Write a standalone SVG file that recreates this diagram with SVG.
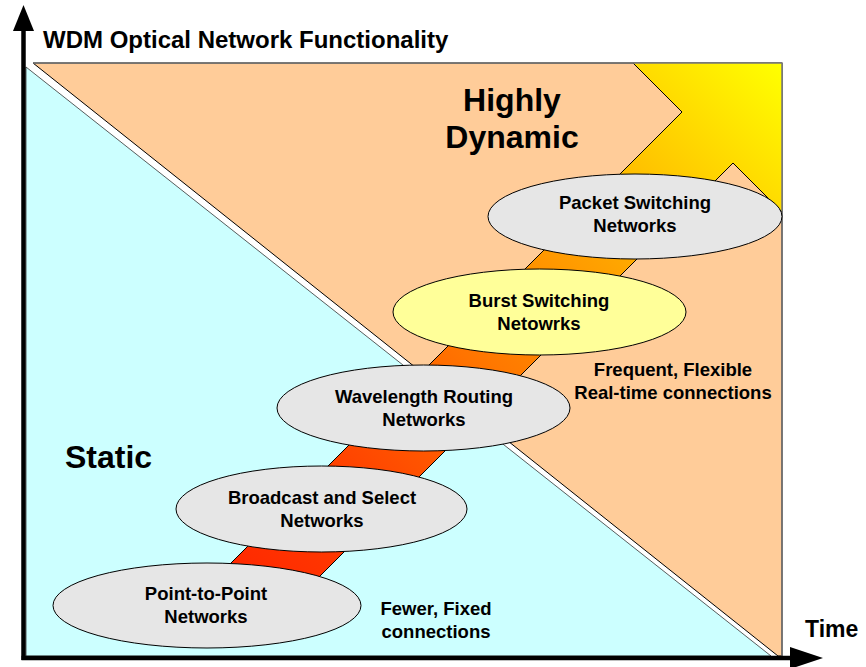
<svg xmlns="http://www.w3.org/2000/svg" width="866" height="667" viewBox="0 0 866 667">
  <style>
    text { font-family: "Liberation Sans", Arial, sans-serif; font-weight: bold; fill: #000; }
    .lbl { font-size: 18.5px; text-anchor: middle; }
    .big { font-size: 32px; }
    .node ellipse { fill: #E6E6E6; stroke: #000; stroke-width: 1; }
    .axis { stroke: #000; stroke-width: 4.5; fill: none; }
  </style>
  <defs>
    <linearGradient id="bandGrad" gradientUnits="userSpaceOnUse" x1="200" y1="650" x2="800" y2="50">
      <stop offset="0" stop-color="#FF1A00"/>
      <stop offset="0.28" stop-color="#FF4400"/>
      <stop offset="0.48" stop-color="#FF7700"/>
      <stop offset="0.66" stop-color="#FFA200"/>
      <stop offset="0.80" stop-color="#FFCC00"/>
      <stop offset="0.97" stop-color="#FFFF00"/>
    </linearGradient>
    <clipPath id="frameClip">
      <rect x="33" y="63" width="749" height="593"/>
    </clipPath>
  </defs>

  <!-- background regions -->
  <g id="regions">
    <polygon points="33,63 782,63 782,656 778,656" fill="#FFCC99" stroke="#000" stroke-width="1"/>
    <polygon points="26,67 26,656 771,656" fill="#CCFFFF" stroke="#333" stroke-width="0.8"/>
  </g>

  <!-- evolution arrow -->
  <g id="evolution-arrow" clip-path="url(#frameClip)">
    <polygon points="207,587 682,112 582,12 822,22 833,263 733,163 258,638"
             fill="url(#bandGrad)" stroke="#000" stroke-width="1"/>
  </g>

  <!-- frame border -->
  <polyline points="33,63 782,63 782,656" fill="none" stroke="#777" stroke-width="1.5"/>

  <!-- axes -->
  <g id="axes">
    <line class="axis" x1="23.5" y1="660" x2="23.5" y2="28"/>
    <polygon points="23.5,5 13,31 34,31" fill="#000"/>
    <line class="axis" x1="21.5" y1="658" x2="792" y2="658"/>
    <polygon points="823,658 790,647 790,669" fill="#000"/>
  </g>

  <g id="connectors"></g>

  <g id="node-packet" class="node">
    <ellipse cx="635" cy="216.5" rx="147" ry="42.5"/>
    <text class="lbl" x="635" y="209">Packet Switching</text>
    <text class="lbl" x="635" y="232">Networks</text>
  </g>
  <g id="node-burst" class="node">
    <ellipse cx="539.5" cy="312" rx="146.5" ry="43" style="fill:#FFFF99"/>
    <text class="lbl" x="539" y="307">Burst Switching</text>
    <text class="lbl" x="539" y="330">Netowrks</text>
  </g>
  <g id="node-wavelength" class="node">
    <ellipse cx="423.5" cy="408" rx="146.5" ry="43"/>
    <text class="lbl" x="424" y="403">Wavelength Routing</text>
    <text class="lbl" x="424" y="426">Networks</text>
  </g>
  <g id="node-broadcast" class="node">
    <ellipse cx="321.5" cy="509" rx="145.5" ry="43"/>
    <text class="lbl" x="322" y="504">Broadcast and Select</text>
    <text class="lbl" x="322" y="527">Networks</text>
  </g>
  <g id="node-p2p" class="node">
    <ellipse cx="207" cy="605.5" rx="154" ry="42.5"/>
    <text class="lbl" x="206" y="600">Point-to-Point</text>
    <text class="lbl" x="206" y="623">Networks</text>
  </g>

  <!-- labels -->
  <text x="43" y="48" font-size="24">WDM Optical Network Functionality</text>
  <text class="big" x="512" y="111" text-anchor="middle">Highly</text>
  <text class="big" x="512" y="148" text-anchor="middle">Dynamic</text>
  <text class="big" x="65" y="468">Static</text>
  <text class="lbl" x="673" y="376">Frequent, Flexible</text>
  <text class="lbl" x="673" y="399">Real-time connections</text>
  <text class="lbl" x="436" y="615">Fewer, Fixed</text>
  <text class="lbl" x="436" y="638">connections</text>
  <text x="805" y="637" font-size="23">Time</text>
</svg>
